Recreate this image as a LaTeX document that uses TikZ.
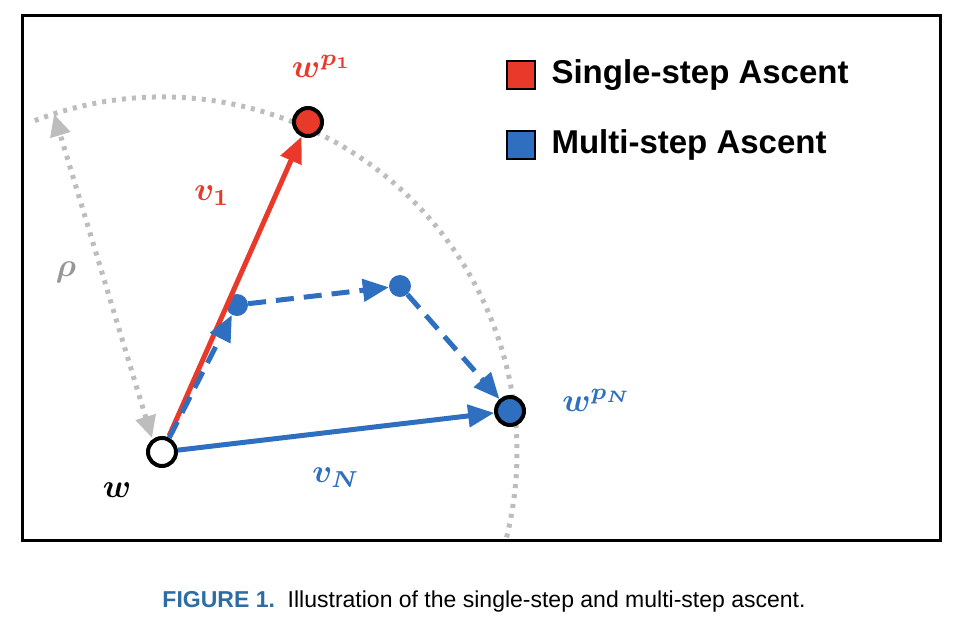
\documentclass[tikz,border=0pt]{standalone}
\usepackage{amsmath,bm,graphicx}
\usepackage{fontspec}
\setsansfont{Liberation Sans}
\usetikzlibrary{arrows.meta}
\definecolor{myred}{HTML}{E8392A}
\definecolor{myblue}{HTML}{2F6FBF}
\definecolor{mygray}{HTML}{BDBDBD}
\definecolor{capblue}{HTML}{2E6DA4}
\newcommand{\biglab}[1]{\scalebox{3.3}{$#1$}}
\tikzset{
  pt/.style={circle,draw=black,line width=4pt,minimum size=28pt,inner sep=0pt},
  mpt/.style={circle,fill=myblue,minimum size=22pt,inner sep=0pt},
  arr/.style={line width=5pt,-{Triangle[length=26pt,width=22pt]}},
  lab/.style={inner sep=0pt},
  leg/.style={font=\sffamily\bfseries\fontsize{33}{36}\selectfont,anchor=west},
  sq/.style={draw=black,line width=2.5pt,minimum size=28pt,inner sep=0pt},
}
\begin{document}
\begin{tikzpicture}[x=1pt,y=-1pt]
\useasboundingbox (0,0) rectangle (968,640);
\begin{scope}
\clip (22,15) rectangle (940,540);
\draw[mygray,line width=5pt,dash pattern=on 4pt off 6pt] (162,452) ++(-111:355) arc[start angle=-111,end angle=20,radius=355];
\end{scope}
\draw[line width=3pt] (22,15) rectangle (940,540);
\coordinate (ra) at (152,438);
\coordinate (rb) at (54,114);
\draw[mygray,line width=5pt,dash pattern=on 4pt off 6pt,{Triangle[length=22pt,width=20pt]}-{Triangle[length=22pt,width=20pt]}] (ra) -- (rb);
\node[lab,text=mygray!80!black] (rho) at (66,272) {\biglab{\bm{\rho}}};
\node[pt,fill=white] (w) at (162,452) {};
\node[pt,fill=myred] (w1) at (308,122) {};
\node[pt,fill=myblue] (wN) at (510,411) {};
\node[mpt] (m1) at (237,305) {};
\node[mpt] (m2) at (400,286) {};
\draw[arr,myred,shorten <=2pt] (w) -- (w1);
\draw[arr,myblue] (w) -- (wN);
\draw[arr,myblue,dash pattern=on 18pt off 10pt] (w) -- (m1);
\draw[arr,myblue,dash pattern=on 18pt off 10pt] (m1) -- (m2);
\draw[arr,myblue,dash pattern=on 18pt off 10pt] (m2) -- (wN);
\node[lab,text=myred] (v1) at (212,196) {\biglab{\bm{v_1}}};
\node[lab,text=myblue] (vN) at (336,478) {\biglab{\bm{v_N}}};
\node[lab] (wl) at (117,490) {\biglab{\bm{w}}};
\node[lab,text=myred] (w1l) at (322,66) {\biglab{\bm{w^{p_1}}}};
\node[lab,text=myblue] (wNl) at (597,400) {\biglab{\bm{w^{p_N}}}};
\node[sq,fill=myred] (s1) at (521,75) {};
\node[leg] (t1) at (548,75) {Single-step Ascent};
\node[sq,fill=myblue] (s2) at (521,145) {};
\node[leg] (t2) at (548,145) {Multi-step Ascent};
\node[font=\sffamily\fontsize{23}{25}\selectfont] (cap) at (484,602) {\textcolor{capblue}{\bfseries FIGURE 1.}\ \ Illustration of the single-step and multi-step ascent.};
\end{tikzpicture}
\end{document}
